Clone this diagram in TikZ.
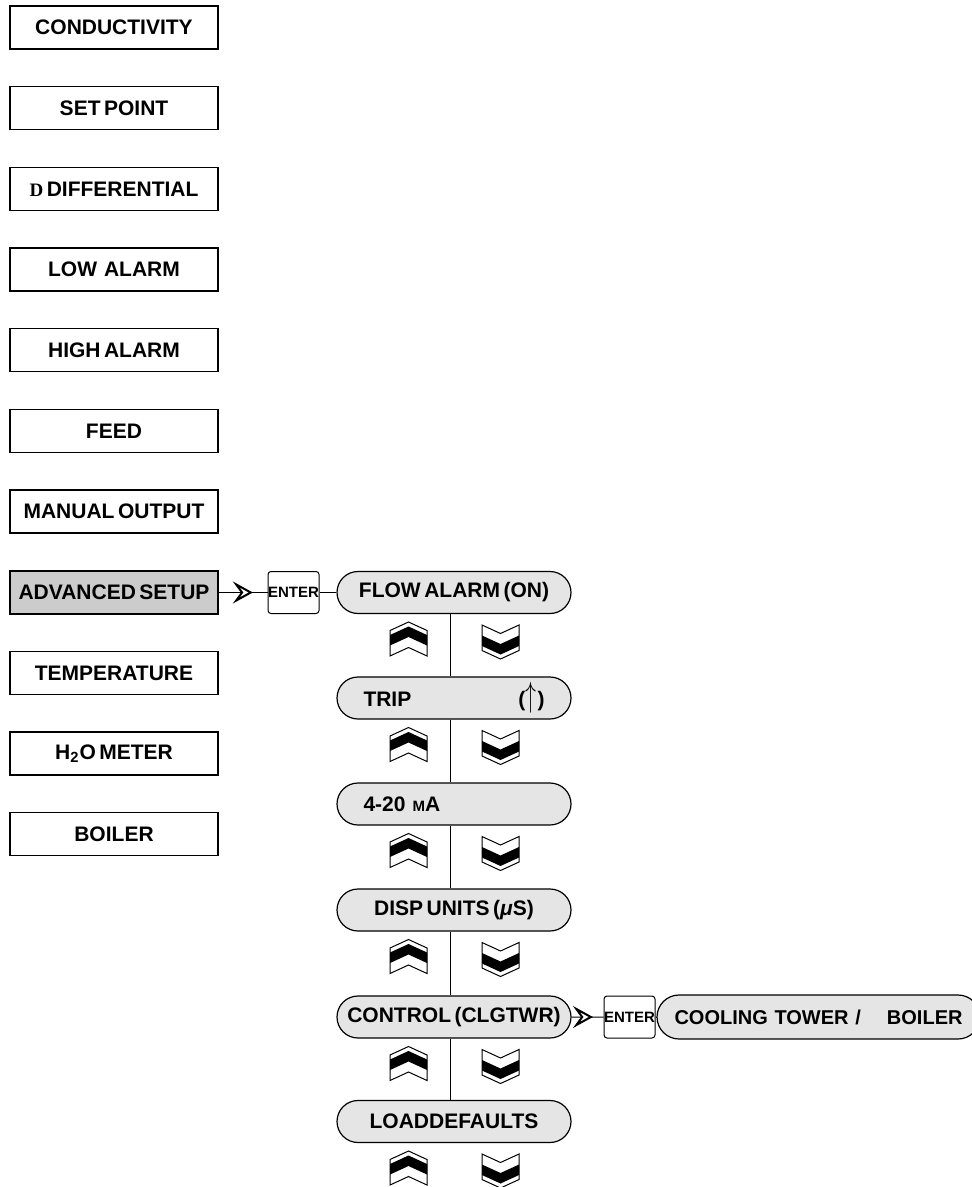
\documentclass[tikz,border=0pt]{standalone}
\usepackage{fontspec}
\setmainfont[WordSpace=0.6]{Liberation Sans}
\newfontfamily\serifD{Liberation Serif}
\usetikzlibrary{shapes.misc,arrows.meta,decorations.markings}

\tikzset{
  menubox/.style={draw, line width=0.7pt, minimum width=104pt, minimum height=21.5pt, inner sep=0pt,
    font=\fontsize{10.5}{12}\selectfont\bfseries},
  dispbox/.style={rounded rectangle, draw, line width=0.6pt, fill=black!10, minimum width=117pt,
    minimum height=21pt, inner sep=0pt, font=\fontsize{10.5}{12}\selectfont\bfseries},
  enterbox/.style={draw, rounded corners=1.5pt, line width=0.5pt, fill=white, minimum width=25.5pt,
    minimum height=21pt, inner sep=0pt, font=\fontsize{7.5}{8}\selectfont\bfseries},
  link/.style={line width=0.5pt},
  midarrow/.style={link, postaction={decorate}, decoration={markings, mark=at position #1 with
    {\arrow{Stealth[length=10pt,width=11pt,inset=4pt,fill=white,line width=1pt]}}}},
  chev/.pic={
    \filldraw[fill=white, line width=0.5pt] (0,-17) -- (18.5,-8.5) -- (18.5,17) -- (0,8.5)
      -- (-18.5,17) -- (-18.5,-8.5) -- cycle;
    \fill (-18.5,-4) -- (0,-12.5) -- (18.5,-4) -- (18.5,6.5) -- (0,-2) -- (-18.5,6.5) -- cycle;
  }
}

\begin{document}
\begin{tikzpicture}[x=0.5pt,y=-0.5pt]
  \useasboundingbox (0,0) rectangle (972,1187);

  % main menu
  \node[menubox] (cond) at (114,27.5) {CONDUCTIVITY};
  \node[menubox] (setp) at (114,108) {SET POINT};
  \node[menubox] (diff) at (114,189) {{\serifD\fontsize{9.5}{10}\selectfont D}\,DIFFERENTIAL};
  \node[menubox] (lowal) at (114,269.5) {LOW\ \ ALARM};
  \node[menubox] (highal) at (114,350) {HIGH ALARM};
  \node[menubox] (feed) at (114,431) {FEED};
  \node[menubox] (manual) at (114,511.5) {MANUAL OUTPUT};
  \node[menubox, fill=black!20] (adv) at (114,592.5) {ADVANCED SETUP};
  \node[menubox] (temp) at (114,673) {TEMPERATURE};
  \node[menubox] (hmeter) at (114,753.5) {H\textsubscript{2}O METER};
  \node[menubox] (boil) at (114,834) {BOILER};

  % advanced setup menu
  \node[enterbox] (enter1) at (293.5,592.5) {ENTER};
  \node[dispbox] (flow) at (454,592.5) {FLOW ALARM (ON)};
  \node[dispbox, text width=90.5pt, align=left] (trip) at (454,698)
    {TRIP\hfill(\kern0.3pt\scalebox{1}[1.6]{$\uparrow$}\kern0.3pt)};
  \node[dispbox, text width=90.5pt, align=left] (ma) at (454,804)
    {4-20 {\fontsize{7.5}{9}\selectfont M}A};
  \node[dispbox] (disp) at (454,910) {DISP UNITS ({\itshape μ}S)};
  \node[dispbox] (ctrl) at (454,1017) {CONTROL (CLGTWR)};
  \node[dispbox] (load) at (454,1121.5) {LOADDEFAULTS};

  \node[enterbox] (enter2) at (629.5,1017) {ENTER};
  \node[dispbox, minimum width=161.5pt, minimum height=22pt, text width=144pt, align=left,
    font=\fontsize{10}{12}\selectfont\bfseries] (cool) at (818.5,1017)
    {COOLING TOWER /\hfill BOILER};

  % connectors
  \draw[midarrow=0.7] (adv) -- (enter1);
  \draw[link] (enter1) -- (flow);
  \draw[midarrow=0.67] (ctrl) -- (enter2);
  \draw[link] (enter2) -- (cool);
  \foreach \a/\b in {flow/trip, trip/ma, ma/disp, disp/ctrl, ctrl/load}
    \draw[link] ([xshift=-2pt]\a.south) -- ([xshift=-2pt]\b.north);

  % up / down keys
  \foreach \y in {592.5,698,804,910,1017,1121.5} {
    \pic at (408.5,\y+46.5) {chev};
    \pic[yscale=-1] at (500.5,\y+49.5) {chev};
  }
\end{tikzpicture}
\end{document}
